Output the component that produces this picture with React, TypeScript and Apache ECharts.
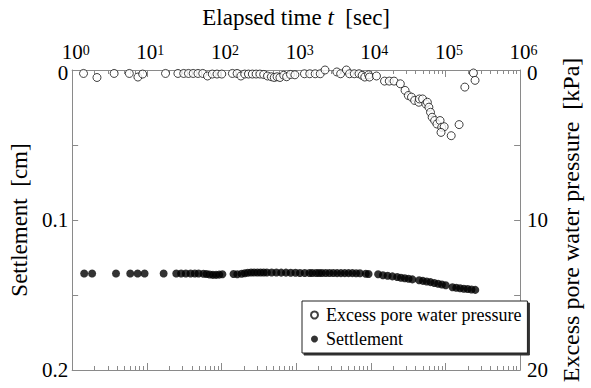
import { useEffect, useRef } from 'react';
import * as echarts from 'echarts';

const FONT = '"Liberation Serif", "Times New Roman", Times, serif';

// [elapsed time (sec), excess pore water pressure (kPa)]
const porePressure: [number, number][] = [
  [1.42, 0.23], [2.15, 0.5], [3.65, 0.23], [5.83, 0.23], [7.6, 0.47], [8.8, 0.27],
  [17.8, 0.23], [26.1, 0.23], [31.2, 0.23], [36.1, 0.23], [41.8, 0.23], [48.4, 0.23],
  [56.1, 0.23], [65, 0.4], [75.3, 0.27], [87.1, 0.27], [101, 0.27], [140, 0.23],
  [162, 0.23], [182, 0.4], [205, 0.27], [230, 0.27], [259, 0.27], [291, 0.27],
  [327, 0.27], [368, 0.3], [414, 0.4], [466, 0.45], [509, 0.5], [556, 0.45],
  [607, 0.5], [682, 0.35], [746, 0.45], [839, 0.3], [963, 0.32], [1292, 0.25],
  [1523, 0.25], [1800, 0.25], [2104, 0.25], [2438, 0.0], [3510, 0.13], [3948, 0.25],
  [4707, 0.0], [5190, 0.25], [6010, 0.25], [6963, 0.25], [7674, 0.36], [8302, 0.47],
  [9340, 0.32], [9616, 0.47], [11920, 0.4], [15270, 0.74], [17680, 0.74], [20480, 0.74],
  [24880, 0.92], [28790, 1.36], [31830, 1.7], [35080, 1.81], [38650, 2.03], [43980, 2.15],
  [44760, 1.93], [49450, 1.93], [54480, 2.26], [57270, 2.15], [60010, 2.48], [63080, 2.82],
  [66340, 3.15], [71620, 3.37], [76880, 3.6], [84700, 3.37], [89050, 3.82], [96160, 3.78],
  [87280, 4.16], [119500, 4.38], [152400, 3.64], [181900, 1.14], [237100, 0.2], [249300, 0.69],
];

// [elapsed time (sec), settlement (cm)]
const settlement: [number, number][] = [
  [1.45, 0.1357], [1.85, 0.1357], [3.87, 0.1357], [6.0, 0.1357], [7.54, 0.1357], [9.34, 0.1357],
  [16.8, 0.1357], [24.8, 0.1357], [28.8, 0.1357], [33.3, 0.1357], [38.6, 0.1357], [44.0, 0.1357],
  [49.4, 0.1357], [57.3, 0.1358], [63.1, 0.136], [69.6, 0.1363], [76.8, 0.1366], [84.7, 0.1366],
  [93.3, 0.1364], [103, 0.1362], [145, 0.136], [163, 0.1362], [186, 0.1358], [205, 0.1355],
  [225, 0.1352], [249, 0.135], [274, 0.135], [303, 0.135], [334, 0.135], [368, 0.135],
  [406, 0.135], [470, 0.135], [544, 0.135], [631, 0.1351], [731, 0.1351], [846, 0.1352],
  [980, 0.1352], [1125, 0.1353], [1303, 0.1353], [1510, 0.1353], [1649, 0.1353], [1855, 0.1353],
  [2027, 0.1353], [2215, 0.1353], [2490, 0.1353], [2800, 0.1353], [3147, 0.1353], [3540, 0.1354],
  [3981, 0.1354], [4478, 0.1354], [5036, 0.1354], [5663, 0.1354], [6369, 0.1355], [7163, 0.1355],
  [8554, 0.1358], [9340, 0.136], [12530, 0.1362], [14520, 0.1368], [16810, 0.1372], [19480, 0.1376],
  [22560, 0.138], [25370, 0.1385], [28530, 0.1388], [32090, 0.1392], [36080, 0.1396], [44390, 0.1402],
  [49930, 0.1406], [56140, 0.141], [63120, 0.1414], [70980, 0.142], [79830, 0.1425], [89770, 0.143],
  [100900, 0.1435], [124100, 0.1448], [139600, 0.1452], [157000, 0.1455], [176500, 0.1458],
  [198500, 0.146], [223200, 0.1463], [251000, 0.1466],
];

const timeRange = [1, 1e6];
const settlementRange = [0, 0.2];
const settlementLabels = [0, 0.1, 0.2];
const pressureRange = [0, 20];
const pressureLabels = [0, 10, 20];

const AXIS_GREY = '#8a8a8a';

function logAxis(position: 'top' | 'bottom', withLabels: boolean): any {
  return {
    type: 'log',
    logBase: 10,
    position,
    min: timeRange[0],
    max: timeRange[1],
    gridIndex: 0,
    axisLine: { show: true, onZero: false, lineStyle: { color: AXIS_GREY, width: 1 } },
    axisTick: { show: true, inside: true, length: 7, lineStyle: { color: AXIS_GREY } },
    minorTick: { show: true, splitNumber: 9, length: 4, lineStyle: { color: AXIS_GREY } },
    splitLine: { show: false },
    minorSplitLine: { show: false },
    axisLabel: withLabels
      ? {
          show: true,
          margin: 8,
          hideOverlap: false,
          formatter: (v: number) => `{sp| }{b|10}{s|${Math.round(Math.log10(v))}}`,
          rich: {
            sp: { width: 7, fontSize: 14, fontFamily: FONT },
            b: { fontSize: 21, lineHeight: 19, padding: [5, 0, 0, 0], fontFamily: FONT, color: '#000', verticalAlign: 'bottom' },
            s: { fontSize: 14, lineHeight: 13, fontFamily: FONT, color: '#000', verticalAlign: 'top' },
          },
        }
      : { show: false },
  };
}

function valueAxis(
  position: 'left' | 'right',
  range: number[],
  labels: number[],
  name: string,
  nameGap: number,
  nameSize: number,
  margin: number,
): any {
  return {
    type: 'value',
    position,
    inverse: true,
    min: range[0],
    max: range[1],
    interval: (range[1] - range[0]) / 4,
    name,
    nameLocation: 'middle',
    nameGap,
    nameRotate: 90,
    nameTextStyle: { fontFamily: FONT, fontSize: nameSize, color: '#000' },
    axisLine: { show: true, onZero: false, lineStyle: { color: AXIS_GREY, width: 1 } },
    axisTick: { show: true, inside: true, length: 6, lineStyle: { color: AXIS_GREY } },
    splitLine: { show: false },
    axisLabel: {
      show: true,
      margin,
      fontFamily: FONT,
      fontSize: 21,
      lineHeight: 14,
      color: '#000',
      // the zero label at the top corner sits a little lower, clear of the time labels
      rich: {
        z: { fontFamily: FONT, fontSize: 21, lineHeight: 14, color: '#000', padding: [6, 0, 0, 0] },
      },
      formatter: (v: number) => {
        const hit = labels.find((l) => Math.abs(l - v) < 1e-9);
        if (hit === undefined) return '';
        return hit === range[0] ? `{z|${hit}}` : String(hit);
      },
    },
  };
}

export default function App() {
  const ref = useRef<HTMLDivElement>(null);

  useEffect(() => {
    document.body.style.margin = '0';
    const chart = echarts.init(ref.current!, undefined, { renderer: 'svg' });
    const topAxis = logAxis('top', true);
    topAxis.name = 'Elapsed time {i|t}\u00a0\u00a0[sec]';
    topAxis.nameLocation = 'middle';
    topAxis.nameGap = 41;
    topAxis.nameTextStyle = {
      fontFamily: FONT,
      fontSize: 23,
      color: '#000',
      rich: { i: { fontFamily: FONT, fontSize: 23, fontStyle: 'italic', color: '#000' } },
    };

    chart.setOption({
      animation: false,
      backgroundColor: '#fff',
      textStyle: { fontFamily: FONT },
      grid: { left: 69, right: 52, top: 70, bottom: 18, containLabel: false },
      xAxis: [topAxis, logAxis('bottom', false)],
      yAxis: [
        valueAxis('left', settlementRange, settlementLabels, 'Settlement\u00a0\u00a0[cm]', 35, 23, 4),
        valueAxis('right', pressureRange, pressureLabels, 'Excess pore water pressure\u00a0\u00a0[kPa]', 35, 24, 7),
      ],
      legend: {
        orient: 'vertical',
        left: 302,
        top: 301,
        icon: 'circle',
        itemWidth: 7,
        itemHeight: 7,
        itemGap: 6,
        padding: [5, 6, 5, 8],
        backgroundColor: '#fff',
        borderColor: '#222',
        borderWidth: 1,
        borderRadius: 0,
        shadowColor: '#333',
        shadowBlur: 0,
        shadowOffsetX: 2,
        shadowOffsetY: 2,
        textStyle: { fontFamily: FONT, fontSize: 18, color: '#000', padding: [0, 0, 0, 3] },
        data: ['Excess pore water pressure', 'Settlement'],
      },
      series: [
        {
          name: 'Settlement',
          type: 'scatter',
          xAxisIndex: 0,
          yAxisIndex: 0,
          symbol: 'circle',
          symbolSize: 8,
          itemStyle: { color: '#000' },
          data: settlement,
        },
        {
          name: 'Excess pore water pressure',
          type: 'scatter',
          xAxisIndex: 0,
          yAxisIndex: 1,
          symbol: 'circle',
          symbolSize: 8,
          clip: false,
          itemStyle: { color: '#fff', borderColor: '#111', borderWidth: 1 },
          data: porePressure,
        },
      ],
    });
    return () => chart.dispose();
  }, []);

  return <div ref={ref} style={{ width: 591, height: 388 }} />;
}
